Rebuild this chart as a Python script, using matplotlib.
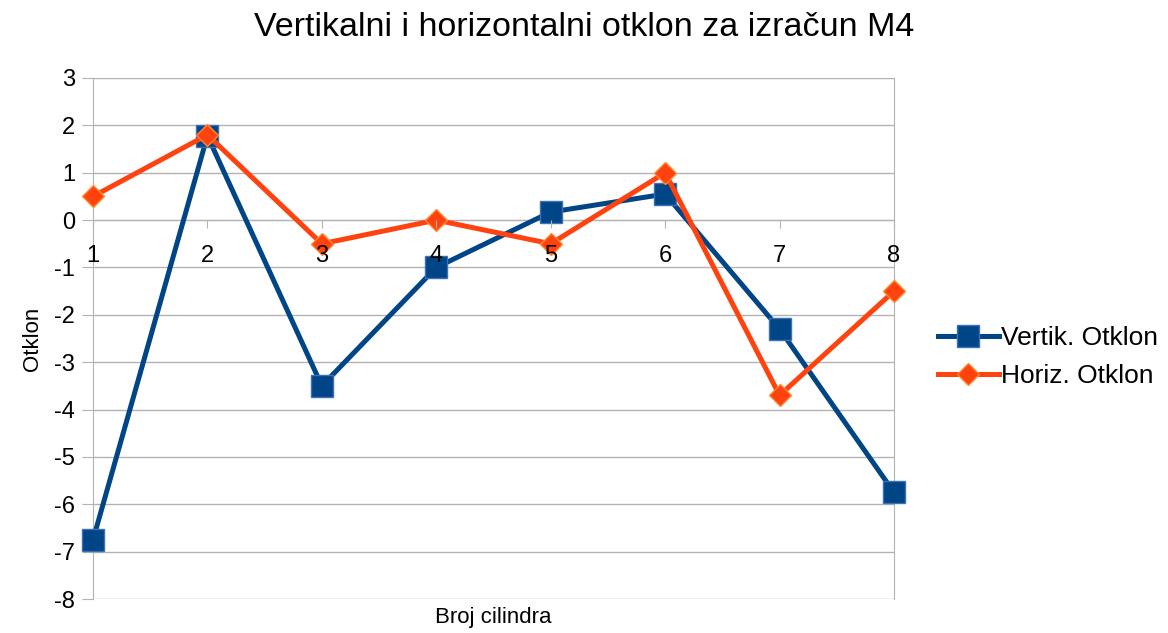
import numpy as np
import matplotlib.pyplot as plt

plt.rcParams['font.family'] = ['Liberation Sans', 'DejaVu Sans']
plt.rcParams['axes.unicode_minus'] = False

# cylinder numbers and measured deviations
cilindri = [1, 2, 3, 4, 5, 6, 7, 8]
vertik = [-6.75, 1.78, -3.5, -1.0, 0.17, 0.55, -2.3, -5.75]
horiz = [0.5, 1.8, -0.5, 0.0, -0.5, 1.0, -3.7, -1.5]
y_ticks = list(range(-8, 4))

blue = '#004586'
orange = '#ff420e'
grid = '#b3b3b3'

fig = plt.figure(figsize=(11.68, 6.33), dpi=100)
ax = fig.add_axes([93/1168, 1-599/633, (894-93)/1168, (599-78)/633])

ax.plot(cilindri, vertik, color=blue, lw=3.6, marker='s', ms=16,
        mfc=blue, mec='#3f6fb5', mew=1, label='Vertik. Otklon',
        zorder=3, clip_on=False)
ax.plot(cilindri, horiz, color=orange, lw=3.6, marker='D', ms=11,
        mfc=orange, mec='#ff8a30', mew=1, label='Horiz. Otklon',
        zorder=4, clip_on=False)

ax.set_xlim(1, 8)
ax.set_ylim(-8, 3)
ax.set_yticks(y_ticks)
ax.set_xticks(cilindri)
ax.yaxis.grid(True, color=grid, lw=1)
ax.set_axisbelow(True)
# category labels sit on top of the lines
ax.xaxis.set_zorder(5)

ax.spines['top'].set_visible(False)
ax.spines['left'].set_color(grid)
ax.spines['right'].set_color(grid)
ax.spines['bottom'].set_position(('data', 0))
ax.spines['bottom'].set_color(grid)
ax.spines['bottom'].set_zorder(1)

ax.tick_params(axis='y', length=8, color=grid, labelsize=17, pad=5)
ax.tick_params(axis='x', length=6, color=grid, labelsize=17, pad=12,
               direction='out')

ax.set_ylabel('Otklon', fontsize=16, labelpad=8)
fig.text((93+894)/2/1168, 1-617/633, 'Broj cilindra', fontsize=16,
         ha='center', va='center')
fig.text(0.5, 1-28/633, 'Vertikalni i horizontalni otklon za izračun M4',
         fontsize=24.5, ha='center', va='center')

fig.legend(loc='center left', bbox_to_anchor=(938/1168, 1-357/633),
           frameon=False, fontsize=19, handlelength=2.3, handletextpad=0.1,
           labelspacing=0.55, borderaxespad=0, borderpad=0)

fig.savefig('out.png', dpi=100)
